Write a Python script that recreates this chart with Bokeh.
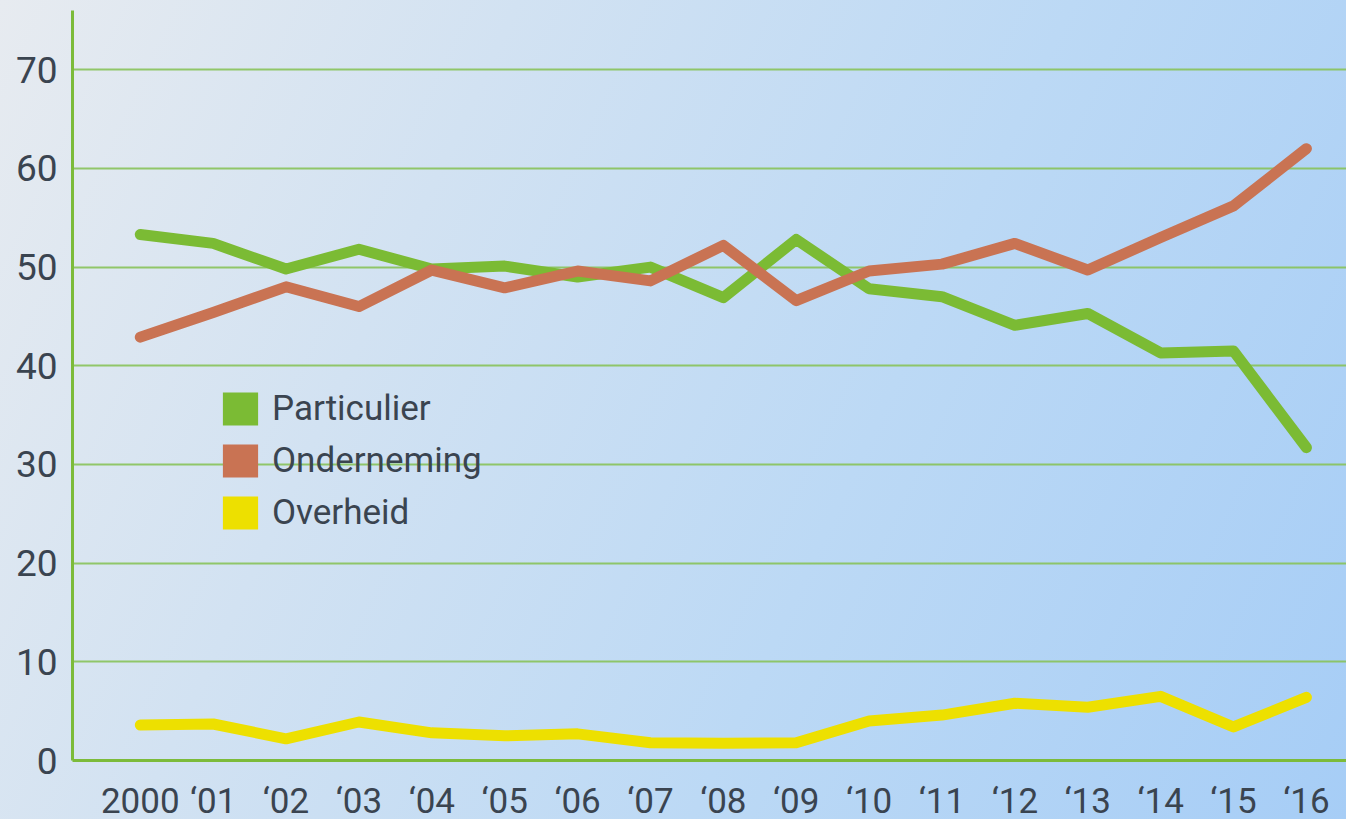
from bokeh.plotting import figure
from bokeh.models import Range1d, FixedTicker, Legend, LegendItem
from bokeh.embed import file_html
from bokeh.resources import INLINE

years = list(range(2000, 2017))
year_labels = ["2000", "\u201801", "\u201802", "\u201803", "\u201804", "\u201805", "\u201806",
               "\u201807", "\u201808", "\u201809", "\u201810", "\u201811", "\u201812", "\u201813",
               "\u201814", "\u201815", "\u201816"]
y_ticks = [0, 10, 20, 30, 40, 50, 60, 70]

particulier = [53.3, 52.4, 49.8, 51.8, 49.8, 50.1, 49.0, 50.0, 46.9, 52.8, 47.8, 47.0, 44.1, 45.3, 41.3, 41.5, 31.7]
onderneming = [42.9, 45.4, 48.0, 46.0, 49.7, 47.9, 49.6, 48.6, 52.2, 46.6, 49.6, 50.3, 52.4, 49.7, 53.0, 56.2, 62.0]
overheid = [3.6, 3.7, 2.2, 3.9, 2.8, 2.5, 2.7, 1.8, 1.75, 1.8, 4.0, 4.6, 5.8, 5.4, 6.5, 3.4, 6.4]

series_names = ["Particulier", "Onderneming", "Overheid"]
colors = ["#7bbb34", "#c97353", "#ede000"]

GREEN_AXIS = "#7cbb3a"
TEXT = "#3a4450"
NAN = float("nan")

p = figure(frame_width=1274, frame_height=750,
           x_range=Range1d(1999.07, 2016.55), y_range=Range1d(0, 76),
           output_backend="svg", toolbar_location=None,
           min_border_left=72, min_border_right=0, min_border_top=10, min_border_bottom=59)

p.styles = {"background": "linear-gradient(115deg, #e7ebf0 0%, #d2e2f2 30%, #bcd9f5 62%, #a6cdf6 100%)"}
p.background_fill_alpha = 0
p.border_fill_alpha = 0
p.outline_line_color = None

p.xgrid.visible = False
p.ygrid.ticker = FixedTicker(ticks=y_ticks)
p.ygrid.grid_line_color = "#88c25a"
p.ygrid.grid_line_width = 2
p.ygrid.grid_line_alpha = 0.9

for ax in (p.xaxis[0], p.yaxis[0]):
    ax.axis_line_color = GREEN_AXIS
    ax.axis_line_width = 3
    ax.major_tick_line_color = None
    ax.minor_tick_line_color = None
    ax.major_label_text_font = "Roboto"
    ax.major_label_text_color = TEXT

p.yaxis.ticker = FixedTicker(ticks=y_ticks)
p.yaxis.major_label_text_font_size = "37px"
p.yaxis.major_label_standoff = 9

p.xaxis.ticker = FixedTicker(ticks=years)
p.xaxis.major_label_overrides = {y: l for y, l in zip(years, year_labels)}
p.xaxis.major_label_text_font_size = "35px"
p.xaxis.major_label_standoff = 14

data = [particulier, onderneming, overheid]
for vals, c in zip(data, colors):
    p.line(years, vals, line_color=c, line_width=11, line_join="round", line_cap="round")

items = []
for name, c in zip(series_names, colors):
    r = p.quad(left=[NAN], right=[NAN], top=[NAN], bottom=[NAN], fill_color=c, line_color=None)
    items.append(LegendItem(label=name, renderers=[r]))

legend = Legend(items=items, location=(146, 227), orientation="vertical",
                glyph_width=44, glyph_height=41, label_height=41, spacing=11,
                padding=0, margin=0, label_standoff=10,
                border_line_color=None, background_fill_alpha=0,
                label_text_font="Roboto", label_text_font_size="35px",
                label_text_color=TEXT)
p.add_layout(legend)

open("out.html", "w").write(file_html(p, INLINE))
